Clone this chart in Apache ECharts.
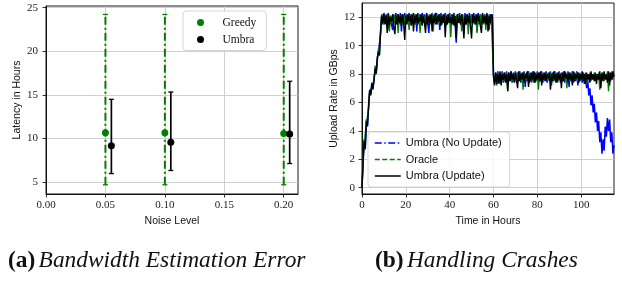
<!DOCTYPE html>
<html><head><meta charset="utf-8">
<script src="https://cdn.jsdelivr.net/npm/echarts@6.0.0/dist/echarts.min.js"></script>
<style>html,body{margin:0;padding:0;background:#fff}#c{width:622px;height:282px}</style>
</head><body><div id="c"></div>
<script>
// ---------- Panel (a): Bandwidth Estimation Error ----------
const noiseTicks = [0, 0.05, 0.10, 0.15, 0.20];
const latencyTicks = [5, 10, 15, 20, 25];
const greedyX = [0.05, 0.10, 0.20];
const greedyMean = [10.65, 10.65, 10.55];
const greedyLow = [4.66, 4.66, 4.66];
const greedyHigh = [24.23, 24.23, 24.23];
const umbraX = [0.055, 0.105, 0.205];
const umbraMean = [9.13, 9.55, 10.5];
const umbraLow = [5.95, 6.3, 7.1];
const umbraHigh = [14.48, 15.32, 16.55];

// ---------- Panel (b): Handling Crashes ----------
const timeTicks = [0, 20, 40, 60, 80, 100];
const rateTicks = [0, 2, 4, 6, 8, 10, 12];
const timeStepHours = 0.5; // samples every half hour, t = 0 .. 115
const umbraUpdate = [
 0.0,1.9,3.3,2.8,4.7,4.4,5.7,6.9,6.5,7.3,7.0,7.6,8.4,8.1,9.1,9.6,9.3,11.0,12.1,
 11.6,12.2,11.5,12.1,10.9,12.2,11.4,12.0,11.7,12.2,
 11.3,10.8,12.1,11.5,12.2,11.6,12.1,11.4,12.2,11.6,
 10.4,12.1,11.5,12.2,11.7,12.1,11.4,12.2,11.0,12.1,
 11.6,12.2,11.5,12.0,11.7,12.2,11.4,12.1,11.6,10.9,
 12.2,11.5,12.1,11.6,12.2,11.0,12.1,11.6,12.3,11.5,
 12.1,11.7,12.2,11.4,12.1,11.6,12.2,10.6,12.1,11.5,
 12.2,11.6,12.0,11.5,12.2,11.4,12.1,10.5,12.2,11.6,
 12.1,11.5,12.2,11.7,10.5,12.1,11.5,12.2,11.6,12.1,
 11.4,10.5,12.2,11.6,12.1,11.5,12.2,11.7,12.1,11.4,
 10.9,12.2,11.6,12.1,11.5,12.2,11.0,12.1,11.6,12.2,
 12.0,
 7.8,7.2,8.1,7.3,8.0,7.4,8.2,7.2,8.0,7.6,
 8.1,7.4,8.0,6.8,8.1,7.5,8.2,7.6,8.0,7.4,
 8.1,7.6,7.0,8.2,7.5,8.0,7.6,8.1,7.4,8.0,
 7.7,8.2,7.1,8.0,7.5,8.1,7.6,8.2,7.4,8.0,
 7.6,8.1,7.5,8.2,7.2,8.0,7.6,8.1,7.5,8.0,
 7.7,8.1,6.9,8.0,7.5,8.2,7.6,8.0,7.4,8.1,
 7.6,8.0,7.0,8.1,7.5,8.2,7.7,8.0,7.4,8.1,
 7.6,8.0,7.2,8.2,7.5,8.0,7.7,8.1,7.4,8.0,
 7.6,8.2,7.5,8.0,7.3,8.1,7.6,8.0,7.4,8.2,
 7.6,8.0,7.5,8.1,7.3,8.0,7.6,8.2,7.0,8.1,
 7.5,8.2,7.6,8.0,7.4,8.2,7.2,8.1,7.6,8.2,
 7.8
];
const oracle = [
 0.0,2.1,3.1,3.0,4.5,4.6,5.5,6.7,6.8,7.1,7.2,7.5,8.6,8.2,8.9,9.8,9.5,11.2,12.2,
 12.2,11.5,12.1,11.6,12.2,11.4,11.0,12.1,11.6,12.2,
 11.5,12.1,11.7,12.2,10.9,12.1,11.5,12.2,11.6,12.1,
 11.5,12.2,11.6,12.1,11.1,12.2,11.5,12.1,11.7,12.2,
 11.5,12.1,11.6,12.2,10.9,12.1,11.5,12.2,11.6,12.1,
 11.5,12.2,11.6,12.1,11.5,12.3,11.0,12.1,11.6,12.2,
 11.5,12.1,11.6,12.2,11.5,12.1,11.7,12.2,11.4,12.1,
 11.6,12.2,10.6,12.1,11.5,12.2,11.6,12.1,11.5,12.2,
 11.6,12.1,11.0,12.2,11.5,12.1,11.6,12.2,10.8,12.1,
 11.6,12.2,11.5,12.1,11.6,12.2,10.9,12.1,11.5,12.2,
 11.6,12.1,11.5,12.2,11.1,12.1,11.6,12.2,11.5,12.1,
 12.1,
 7.9,7.4,8.0,7.2,8.1,7.5,8.0,7.3,8.1,7.5,
 8.0,7.5,8.1,6.8,8.0,7.6,8.1,7.5,8.0,7.6,
 8.1,7.5,8.0,7.6,8.1,7.5,8.0,6.9,8.1,7.6,
 8.0,7.5,8.1,7.6,8.0,7.4,8.1,7.6,8.0,7.5,
 8.1,6.9,8.0,7.6,8.1,7.5,8.0,7.6,8.1,7.5,
 8.0,7.6,8.1,7.2,8.0,7.5,8.1,7.6,8.0,7.5,
 8.1,7.6,8.0,7.5,8.1,7.6,8.0,7.0,8.1,7.5,
 8.0,7.6,8.1,7.5,8.0,7.6,8.1,7.5,8.0,7.6,
 8.1,7.5,8.0,7.6,8.1,7.3,8.0,7.6,8.1,7.5,
 8.0,7.6,8.1,7.5,8.0,7.6,8.1,6.9,8.0,7.6,
 8.1,7.5,8.0,7.6,8.2,6.8,8.1,7.5,8.2,7.6,
 8.0
];
const umbraNoUpdate = [
 0.0,1.7,3.4,2.7,4.8,4.3,5.8,6.8,6.6,7.4,6.9,7.7,8.3,8.0,9.2,9.5,9.4,10.9,12.2,
 11.5,12.3,11.6,12.2,11.5,12.3,11.6,12.1,11.5,11.1,
 12.2,11.6,12.3,11.5,12.2,11.6,12.3,11.0,12.2,11.6,
 12.3,11.5,12.2,11.6,12.3,11.5,12.2,11.6,12.3,11.5,
 12.2,11.0,12.3,11.6,12.2,11.5,12.3,11.6,12.2,11.5,
 12.3,11.6,10.9,12.2,11.5,12.3,11.6,12.2,11.5,12.3,
 11.6,12.2,11.1,12.3,11.5,12.2,11.6,12.3,11.5,12.2,
 11.6,12.3,11.5,12.2,11.6,12.3,11.5,10.2,12.2,11.6,
 12.3,11.5,12.2,11.6,10.9,12.3,11.5,12.2,11.6,12.3,
 11.5,12.2,11.6,12.3,11.5,12.2,11.0,12.3,11.6,12.2,
 11.5,12.3,11.6,12.2,11.5,12.3,11.6,11.1,12.2,11.6,
 12.2,
 8.0,7.3,8.1,7.4,8.2,7.3,8.1,7.5,8.2,7.4,
 8.1,7.5,8.2,7.3,8.1,7.5,8.2,7.4,8.1,7.5,
 8.2,7.4,8.1,7.5,8.2,7.4,8.1,7.5,8.2,7.1,
 8.1,7.5,8.2,7.4,8.1,7.5,8.2,7.4,8.1,7.5,
 8.2,7.4,8.1,7.5,8.2,7.4,8.1,7.5,8.2,7.4,
 8.1,7.5,8.2,7.4,8.1,7.5,8.2,7.4,8.1,7.5,
 8.2,7.4,8.1,7.5,8.2,7.4,8.1,7.5,8.2,7.1,
 8.1,7.5,8.2,7.4,8.1,7.5,8.2,7.2,8.1,7.5,
 8.0,7.4,8.1,7.3,7.9,7.0,7.6,6.5,7.0,5.8,
 6.5,5.3,5.9,4.6,5.3,4.0,4.7,3.2,3.9,2.4,
 3.4,2.6,4.3,3.6,4.9,4.0,4.8,3.2,3.9,2.4,
 3.0
];

function toPairs(values) {
  return values.map((v, i) => [i * timeStepHours, v]);
}
function errorBars(xs, lows, highs) {
  return xs.map((x, i) => [x, lows[i], highs[i]]);
}
function points(xs, ys) {
  return xs.map((x, i) => [x, ys[i]]);
}
function errRender(color, dash, width, cap) {
  return function (params, api) {
    const x = api.value(0), lo = api.value(1), hi = api.value(2);
    const a = api.coord([x, lo]), b = api.coord([x, hi]);
    return {
      type: 'group',
      children: [
        { type: 'line', shape: { x1: a[0], y1: a[1], x2: b[0], y2: b[1] },
          style: { stroke: color, lineWidth: width, lineDash: dash } },
        { type: 'line', shape: { x1: a[0] - cap, y1: a[1], x2: a[0] + cap, y2: a[1] },
          style: { stroke: color, lineWidth: 1.3 } },
        { type: 'line', shape: { x1: b[0] - cap, y1: b[1], x2: b[0] + cap, y2: b[1] },
          style: { stroke: color, lineWidth: 1.3 } }
      ]
    };
  };
}

const serif = 'Liberation Serif';
const sans = 'Liberation Sans';
const gridLine = { show: true, lineStyle: { color: '#c4c4c4', width: 0.8 } };
const tickStyle = { show: true, inside: false, length: 3.5, lineStyle: { color: '#000', width: 0.8 } };
const lineAx = { show: true, onZero: false, lineStyle: { color: '#000', width: 0.9 } };
const labelStyle = { fontFamily: serif, fontSize: 11, color: '#222', margin: 6 };
const nameStyle = { fontFamily: sans, fontSize: 10.5, color: '#111' };
const capFont = 23.4;

const chart = echarts.init(document.getElementById('c'), null, { renderer: 'canvas' });
chart.setOption({
  animation: false,
  backgroundColor: '#fff',
  grid: [
    { left: 46, top: 6, width: 252, height: 188, show: true, borderColor: '#000', borderWidth: 0.9, backgroundColor: 'transparent' },
    { left: 362, top: 3, width: 252, height: 191, show: true, borderColor: '#000', borderWidth: 0.9, backgroundColor: 'transparent' }
  ],
  xAxis: [
    { type: 'value', gridIndex: 0, min: 0, max: 0.212,
      axisLine: lineAx, axisTick: Object.assign({}, tickStyle, { customValues: noiseTicks }),
      axisLabel: Object.assign({}, labelStyle, { customValues: noiseTicks, formatter: v => v.toFixed(2) }),
      splitLine: gridLine,
      name: 'Noise Level', nameLocation: 'middle', nameGap: 19, nameTextStyle: nameStyle },
    { type: 'value', gridIndex: 1, min: 0, max: 115,
      axisLine: lineAx, axisTick: Object.assign({}, tickStyle, { customValues: timeTicks }),
      axisLabel: Object.assign({}, labelStyle, { customValues: timeTicks }),
      splitLine: gridLine,
      name: 'Time in Hours', nameLocation: 'middle', nameGap: 19, nameTextStyle: nameStyle }
  ],
  yAxis: [
    { type: 'value', gridIndex: 0, min: 3.6, max: 25.2,
      axisLine: lineAx, axisTick: Object.assign({}, tickStyle, { customValues: latencyTicks }),
      axisLabel: Object.assign({}, labelStyle, { customValues: latencyTicks, margin: 8 }),
      splitLine: gridLine,
      name: 'Latency in Hours', nameLocation: 'middle', nameGap: 17, nameTextStyle: nameStyle },
    { type: 'value', gridIndex: 1, min: -0.44, max: 13,
      axisLine: lineAx, axisTick: Object.assign({}, tickStyle, { customValues: rateTicks }),
      axisLabel: Object.assign({}, labelStyle, { customValues: rateTicks, margin: 7 }),
      splitLine: gridLine,
      name: 'Upload Rate in GBps', nameLocation: 'middle', nameGap: 18, nameTextStyle: nameStyle }
  ],
  legend: [
    { orient: 'vertical', left: 183, top: 11, padding: [5.5, 10, 5, 14], itemGap: 5,
      itemWidth: 34, itemHeight: 7, backgroundColor: 'rgba(255,255,255,0.85)',
      borderColor: '#cccccc', borderWidth: 0.8, borderRadius: 3,
      textStyle: { fontFamily: serif, fontSize: 11.5, color: '#111', lineHeight: 12 },
      data: [{ name: 'Greedy', icon: 'circle', itemStyle: { opacity: 1 } },
             { name: 'Umbra', icon: 'circle', itemStyle: { opacity: 1 } }] },
    { orient: 'vertical', left: 368, top: 132, padding: [5, 8, 5, 6], itemGap: 4.5,
      itemWidth: 26, itemHeight: 10, backgroundColor: 'rgba(255,255,255,0.85)',
      borderColor: '#cccccc', borderWidth: 0.8, borderRadius: 3,
      textStyle: { fontFamily: sans, fontSize: 11, color: '#111', lineHeight: 12 },
      data: [
        { name: 'Umbra (No Update)', itemStyle: { opacity: 0 }, lineStyle: { type: [7, 2.5, 1.5, 2.5], width: 1.5 } },
        { name: 'Oracle', itemStyle: { opacity: 0 }, lineStyle: { type: [5, 2.5], width: 1.5 } },
        { name: 'Umbra (Update)', itemStyle: { opacity: 0 }, lineStyle: { type: 'solid', width: 1.5 } }
      ] }
  ],
  series: [
    { name: 'greedyErr', type: 'custom', xAxisIndex: 0, yAxisIndex: 0, z: 2,
      renderItem: errRender('#008000', [8, 3, 2, 3], 2, 2.5),
      encode: { x: 0, y: [1, 2] }, data: errorBars(greedyX, greedyLow, greedyHigh) },
    { name: 'Greedy', type: 'scatter', xAxisIndex: 0, yAxisIndex: 0, z: 3,
      symbol: 'circle', symbolSize: 7, itemStyle: { color: '#008000', opacity: 1 },
      data: points(greedyX, greedyMean) },
    { name: 'umbraErr', type: 'custom', xAxisIndex: 0, yAxisIndex: 0, z: 4,
      renderItem: errRender('#000000', null, 1.7, 2.5),
      encode: { x: 0, y: [1, 2] }, data: errorBars(umbraX, umbraLow, umbraHigh) },
    { name: 'Umbra', type: 'scatter', xAxisIndex: 0, yAxisIndex: 0, z: 5,
      symbol: 'circle', symbolSize: 7, itemStyle: { color: '#000000', opacity: 1 },
      data: points(umbraX, umbraMean) },

    { name: 'Umbra (No Update)', type: 'line', xAxisIndex: 1, yAxisIndex: 1, z: 2,
      symbol: 'none', lineStyle: { color: '#0000ff', width: 1.5 }, itemStyle: { color: '#0000ff' },
      data: toPairs(umbraNoUpdate) },
    { name: 'Oracle', type: 'line', xAxisIndex: 1, yAxisIndex: 1, z: 3,
      symbol: 'none', lineStyle: { color: '#008000', width: 1.4 }, itemStyle: { color: '#008000' },
      data: toPairs(oracle) },
    { name: 'Umbra (Update)', type: 'line', xAxisIndex: 1, yAxisIndex: 1, z: 4,
      symbol: 'none', lineStyle: { color: '#000000', width: 1.4 }, itemStyle: { color: '#000000' },
      data: toPairs(umbraUpdate) }
  ],
  graphic: [
    { type: 'text', left: 8, top: 249,
      style: { text: '{b|(a)} {i|Bandwidth Estimation Error}',
        rich: { b: { fontFamily: serif, fontWeight: 'bold', fontSize: capFont, fill: '#111' },
                i: { fontFamily: serif, fontStyle: 'italic', fontSize: capFont, fill: '#111' } } } },
    { type: 'text', left: 375, top: 249,
      style: { text: '{b|(b)} {i|Handling Crashes}',
        rich: { b: { fontFamily: serif, fontWeight: 'bold', fontSize: capFont, fill: '#111' },
                i: { fontFamily: serif, fontStyle: 'italic', fontSize: capFont, fill: '#111' } } } }
  ]
});
</script></body></html>
